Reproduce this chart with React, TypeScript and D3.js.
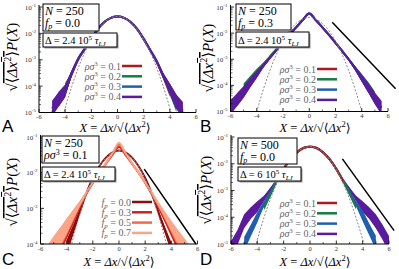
import React from "react";
import * as d3 from "d3";

const _ = null;

// shared x grid (X = dx / sqrt(<dx^2>))
const xGrid = [-6, -5.5, -5, -4.5, -4, -3.5, -3, -2.5, -2, -1.5, -1, -0.5, 0, 0.5, 1, 1.5, 2, 2.5, 3, 3.5, 4, 4.5, 5, 5.5, 6];
const xTicks = [-6, -4, -2, 0, 2, 4, 6];

const rhoLabels = ["0.1", "0.2", "0.3", "0.4"];
const fpLabels = ["0.0", "0.3", "0.5", "0.7"];
const rhoColors = ["#b0181f", "#1a7a44", "#1f5fae", "#5a1c9c"];
const fpColors = ["#8e0b0b", "#d0201c", "#f46a48", "#fca487"];

// values are log10 of sqrt(<dx^2>) P(X)
// panel A : N=250, fp=0.0
const gaussA = [_, _, _, -5.76, -4.83, -4.02, -3.31, -2.72, -2.23, -1.85, -1.58, -1.41, -1.36, -1.41, -1.58, -1.85, -2.23, -2.72, -3.31, -4.02, -4.83, -5.76, _, _, _];
const aRho1 = [_, _, _, _, -4.1, -3.55, -3.0, -2.6, -2.22, -1.84, -1.57, -1.41, -1.36, -1.41, -1.57, -1.84, -2.22, -2.65, -3.1, -3.65, -4.2, _, _, _, _];
const aRho2 = [_, _, _, -4.5, -4.15, -3.52, -2.98, -2.59, -2.22, -1.84, -1.57, -1.41, -1.36, -1.41, -1.57, -1.84, -2.22, -2.64, -3.08, -3.62, -4.15, -4.7, _, _, _];
const aRho3 = [_, _, _, -4.5, -4.2, -3.5, -2.96, -2.58, -2.21, -1.84, -1.57, -1.41, -1.36, -1.41, -1.57, -1.84, -2.21, -2.63, -3.06, -3.6, -4.1, -4.6, _, _, _];
const aRho4 = [_, _, -4.85, -4.5, -4.2, -3.5, -2.95, -2.58, -2.2, -1.83, -1.57, -1.41, -1.36, -1.41, -1.57, -1.83, -2.2, -2.62, -3.05, -3.6, -4.1, -4.6, -4.9, _, _];
const spreadA = [0, 0, 0.3, 0.28, 0.22, 0.1, 0.03, 0, 0, 0, 0, 0, 0, 0, 0, 0, 0, 0, 0.03, 0.1, 0.2, 0.28, 0.3, 0, 0];

// panel B : N=250, fp=0.3
const gaussB = [_, _, _, -5.96, -5.0, -4.16, -3.43, -2.81, -2.3, -1.91, -1.63, -1.46, -1.4, -1.46, -1.63, -1.91, -2.3, -2.81, -3.43, -4.16, -5.0, -5.96, _, _, _];
const bRho1 = [_, _, _, -3.88, -3.56, -3.23, -2.93, -2.63, -2.34, -2.05, -1.78, -1.5, -1.25, -1.5, -1.78, -2.07, -2.37, -2.68, -3.0, -3.35, -3.72, -4.1, _, _, _];
const bRho2 = [_, _, -4.15, -3.82, -3.5, -3.2, -2.9, -2.6, -2.32, -2.04, -1.78, -1.5, -1.25, -1.5, -1.78, -2.07, -2.37, -2.68, -3.0, -3.35, -3.7, -4.05, -4.45, _, _];
const bRho3 = [_, -4.55, -4.25, -3.9, -3.58, -3.25, -2.95, -2.65, -2.35, -2.05, -1.78, -1.5, -1.25, -1.5, -1.78, -2.07, -2.37, -2.68, -3.0, -3.35, -3.72, -4.1, -4.5, -4.85, _];
const bRho4 = [-4.85, -4.55, -4.25, -3.9, -3.58, -3.25, -2.95, -2.65, -2.35, -2.05, -1.78, -1.5, -1.25, -1.5, -1.78, -2.07, -2.37, -2.68, -3.0, -3.35, -3.72, -4.1, -4.5, -4.85, _];
const spreadB = [0.28, 0.25, 0.22, 0.18, 0.14, 0.08, 0.04, 0.02, 0, 0, 0, 0, 0, 0, 0, 0, 0, 0.02, 0.04, 0.08, 0.14, 0.18, 0.22, 0.25, 0.28];
const slopeB = [[1.75, -1.58], [6.58, -4.13]];

// panel C : N=250, rho sigma^3 = 0.1
const gaussC = [_, _, _, _, -4.58, -3.83, -3.18, -2.63, -2.18, -1.83, -1.58, -1.43, -1.38, -1.43, -1.58, -1.83, -2.18, -2.63, -3.18, -3.83, -4.58, _, _, _, _];
const cFp0 = [_, _, _, _, -4.1, -3.6, -3.1, -2.58, -2.15, -1.82, -1.58, -1.43, -1.38, -1.43, -1.58, -1.82, -2.15, -2.58, -3.1, -3.6, -4.1, _, _, _, _];
const cFp3 = [_, _, _, -4.0, -3.65, -3.3, -2.95, -2.6, -2.28, -2.0, -1.75, -1.5, -1.28, -1.5, -1.75, -2.0, -2.28, -2.6, -2.95, -3.3, -3.65, -4.0, _, _, _];
const cFp5 = [_, _, -4.2, -3.88, -3.55, -3.22, -2.9, -2.58, -2.28, -2.0, -1.74, -1.47, -1.22, -1.47, -1.74, -2.0, -2.28, -2.58, -2.9, -3.22, -3.55, -3.88, -4.2, _, _];
const cFp7 = [_, -4.35, -4.08, -3.8, -3.5, -3.18, -2.87, -2.56, -2.27, -2.0, -1.73, -1.45, -1.16, -1.45, -1.73, -2.0, -2.27, -2.56, -2.87, -3.18, -3.5, -3.8, -4.08, -4.35, _];
const spreadC = [0, 0.3, 0.3, 0.26, 0.22, 0.15, 0.08, 0.04, 0, 0, 0, 0, 0, 0, 0, 0, 0, 0.03, 0.06, 0.1, 0.15, 0.2, 0.24, 0.26, 0];
const slopeC = [[1.93, -1.9], [5.88, -4.0]];

// panel D : N=500, fp=0.0
const gaussD = [_, _, _, -5.76, -4.83, -4.02, -3.31, -2.72, -2.23, -1.85, -1.58, -1.41, -1.36, -1.41, -1.58, -1.85, -2.23, -2.72, -3.31, -4.02, -4.83, -5.76, _, _, _];
const dRho1 = [_, _, _, _, _, _, _, -2.62, -2.2, -1.84, -1.58, -1.41, -1.36, -1.41, -1.58, -1.84, -2.2, -2.65, _, _, _, _, _, _, _];
const dRho2 = [_, _, _, _, _, -3.65, -3.15, -2.62, -2.2, -1.84, -1.58, -1.41, -1.36, -1.41, -1.58, -1.84, -2.2, -2.64, -3.12, -3.62, _, _, _, _, _];
const dRho3 = [_, _, -5.0, -4.5, -4.0, -3.5, -3.05, -2.62, -2.2, -1.84, -1.58, -1.41, -1.36, -1.41, -1.58, -1.84, -2.2, -2.62, -3.05, -3.5, -3.95, -4.45, -4.95, _, _];
const dRho4 = [-5.2, -4.75, -4.15, -3.85, -3.6, -3.3, -2.95, -2.6, -2.2, -1.84, -1.58, -1.41, -1.36, -1.41, -1.58, -1.84, -2.2, -2.6, -2.95, -3.3, -3.6, -3.85, -4.15, -4.55, -5.0];
const spreadD = [0.3, 0.28, 0.26, 0.22, 0.2, 0.1, 0.05, 0.02, 0, 0, 0, 0, 0, 0, 0, 0, 0, 0.02, 0.05, 0.1, 0.2, 0.22, 0.26, 0.28, 0.3];
const slopeD = [[2.46, -1.82], [6.39, -4.5]];

const SERIF = "'Liberation Serif', 'DejaVu Serif', serif";
const SANS = "'Liberation Sans', Arial, sans-serif";

const panels = [
  {
    id: "A", x0: 39, x1: 196, y0: 7, y1: 112.5, yMin: -5,
    series: [aRho1, aRho2, aRho3, aRho4], colors: rhoColors, spread: spreadA, gauss: gaussA, slope: null,
    reverse: false, legend: rhoLabels, legendKind: "rho", legendX: 122, legendY: 66,
    N: "250", second: ["f", "0.0"], delta: "2.4", box1: [43, 4, 99, 31], box2: [43, 33, 117, 47],
    yTitle: [17, 57], xTitle: [115, 132], letter: [2, 132],
  },
  {
    id: "B", x0: 230.5, x1: 388, y0: 7, y1: 111.5, yMin: -5,
    series: [bRho1, bRho2, bRho3, bRho4], colors: rhoColors, spread: spreadB, gauss: gaussB, slope: slopeB,
    reverse: false, legend: rhoLabels, legendKind: "rho", legendX: 317, legendY: 69,
    N: "250", second: ["f", "0.3"], delta: "2.4", box1: [236, 4, 291, 30], box2: [236, 32, 309, 47],
    yTitle: [213, 58], xTitle: [315, 132], letter: [200, 132],
  },
  {
    id: "C", x0: 40.5, x1: 197.5, y0: 137, y1: 244, yMin: -4,
    series: [cFp0, cFp3, cFp5, cFp7], colors: fpColors, spread: spreadC, gauss: gaussC, slope: slopeC,
    reverse: false, legend: fpLabels, legendKind: "fp", legendX: 132, legendY: 202,
    N: "250", second: ["rho", "0.1"], delta: "2.4", box1: [42, 136, 99, 163], box2: [42, 167, 115, 181],
    yTitle: [17, 192], xTitle: [119, 266], letter: [2, 265],
  },
  {
    id: "D", x0: 231, x1: 389, y0: 137, y1: 244, yMin: -5,
    series: [dRho1, dRho2, dRho3, dRho4], colors: rhoColors, spread: spreadD, gauss: gaussD, slope: slopeD,
    reverse: true, legend: rhoLabels, legendKind: "rho", legendX: 317, legendY: 203,
    N: "500", second: ["f", "0.0"], delta: "6", box1: [238, 138, 297, 164], box2: [238, 167, 301, 181],
    yTitle: [211, 190], xTitle: [315, 266], letter: [200, 265],
  },
];

function Panel({ p }: { p: any }) {
  const x = d3.scaleLinear().domain([-6, 6]).range([p.x0, p.x1]);
  const y = d3.scaleLinear().domain([p.yMin, -1]).range([p.y1, p.y0]);
  const clipId = "clip" + p.id;

  const line = d3
    .line<any>()
    .defined((d) => d[1] != null)
    .x((d) => x(d[0]))
    .y((d) => y(d[1]))
    .curve(d3.curveMonotoneX);

  const band = d3
    .area<any>()
    .defined((d) => d[1] != null && d[2] > 0)
    .x((d) => x(d[0]))
    .y0((d) => y(d[1] - d[2]))
    .y1((d) => y(d[1] + d[2]));

  const order = p.reverse ? [3, 2, 1, 0] : [0, 1, 2, 3];
  const majors = d3.range(p.yMin, 0);
  const minors: number[] = [];
  for (let dec = p.yMin; dec < -1; dec++) for (let k = 2; k <= 9; k++) minors.push(dec + Math.log10(k));
  const xMinor = d3.range(-5, 6, 2);

  const gaussPts = xGrid.map((v, i) => [v, p.gauss[i]]);

  return (
    <g>
      <defs>
        <clipPath id={clipId}>
          <rect x={p.x0} y={p.y0 - 3} width={p.x1 - p.x0} height={p.y1 - p.y0 + 3} />
        </clipPath>
      </defs>

      <g clipPath={`url(#${clipId})`}>
        {order.map((si) => {
          const pts = xGrid.map((v, i) => [v, p.series[si][i], p.spread[i]]);
          return (
            <g key={si}>
              <path d={band(pts) || ""} fill={p.colors[si]} />
              <path d={line(pts) || ""} fill="none" stroke={p.colors[si]} strokeWidth={2} />
            </g>
          );
        })}
        <path d={line(gaussPts) || ""} fill="none" stroke="#8a8a8a" strokeWidth={1} strokeDasharray="2,1.6" />
      </g>

      {p.slope && (
        <line x1={x(p.slope[0][0])} y1={y(p.slope[0][1])} x2={x(p.slope[1][0])} y2={y(p.slope[1][1])} stroke="#000" strokeWidth={1.5} />
      )}

      {/* axes */}
      <line x1={p.x0} x2={p.x0} y1={p.y0 - 2} y2={p.y1} stroke="#000" strokeWidth={1} />
      <line x1={p.x0} x2={p.x1} y1={p.y1} y2={p.y1} stroke="#000" strokeWidth={1} />
      {majors.map((m: number) => (
        <g key={"m" + m}>
          <line x1={p.x0} x2={p.x0 + 3.5} y1={y(m)} y2={y(m)} stroke="#000" strokeWidth={0.8} />
          <text x={p.x0 - 3} y={y(m) + 2.5} textAnchor="end" fontFamily={SERIF} fontSize={7} fill="#333">
            10<tspan dy={-3} fontSize={5}>{m}</tspan>
          </text>
        </g>
      ))}
      {minors.map((m, i) => (
        <line key={"n" + i} x1={p.x0} x2={p.x0 + 2} y1={y(m)} y2={y(m)} stroke="#000" strokeWidth={0.6} />
      ))}
      {xTicks.map((t) => (
        <g key={"x" + t}>
          <line x1={x(t)} x2={x(t)} y1={p.y1} y2={p.y1 - 3.5} stroke="#000" strokeWidth={0.8} />
          <text x={x(t)} y={p.y1 + 6.5} textAnchor="middle" fontFamily={SERIF} fontSize={6.5} fill="#333">
            {t}
          </text>
        </g>
      ))}
      {xMinor.map((t) => (
        <line key={"xm" + t} x1={x(t)} x2={x(t)} y1={p.y1} y2={p.y1 - 2} stroke="#000" strokeWidth={0.6} />
      ))}

      {/* legend */}
      {p.legend.map((lab: string, i: number) => (
        <g key={"l" + i}>
          <text x={p.legendX - 1} y={p.legendY + i * 10.3 + 3.5} textAnchor="end" fontFamily={SERIF} fontSize={10} fill="#666">
            {p.legendKind === "rho" ? (
              <>
                <tspan fontStyle="italic">ρσ</tspan>
                <tspan dy={-4} fontSize={7}>3</tspan>
                <tspan dy={4}>{" = " + lab}</tspan>
              </>
            ) : (
              <>
                <tspan fontStyle="italic">f</tspan>
                <tspan dy={2} fontSize={7} fontStyle="italic">p</tspan>
                <tspan dy={-2}>{" = " + lab}</tspan>
              </>
            )}
          </text>
          <line x1={p.legendX} x2={p.legendX + 20} y1={p.legendY + i * 10.3} y2={p.legendY + i * 10.3} stroke={p.colors[i]} strokeWidth={2.5} />
        </g>
      ))}

      {/* info boxes */}
      <rect x={p.box1[0]} y={p.box1[1]} width={p.box1[2] - p.box1[0]} height={p.box1[3] - p.box1[1]} fill="#fff" stroke="#000" strokeWidth={1} />
      <text x={p.box1[0] + 2} y={p.box1[1] + 10.5} fontFamily={SERIF} fontSize={12}>
        <tspan fontStyle="italic">N</tspan> = {p.N}
      </text>
      <text x={p.box1[0] + 2} y={p.box1[1] + 23} fontFamily={SERIF} fontSize={12}>
        {p.second[0] === "f" ? (
          <>
            <tspan fontStyle="italic">f</tspan>
            <tspan dy={2} fontSize={8} fontStyle="italic">p</tspan>
            <tspan dy={-2}>{" = " + p.second[1]}</tspan>
          </>
        ) : (
          <>
            <tspan fontStyle="italic">ρσ</tspan>
            <tspan dy={-4} fontSize={8}>3</tspan>
            <tspan dy={4}>{" = " + p.second[1]}</tspan>
          </>
        )}
      </text>
      <rect x={p.box2[0] + 1.5} y={p.box2[1] + 1.5} width={p.box2[2] - p.box2[0]} height={p.box2[3] - p.box2[1]} fill="#999" />
      <rect x={p.box2[0]} y={p.box2[1]} width={p.box2[2] - p.box2[0]} height={p.box2[3] - p.box2[1]} fill="#fff" stroke="#000" strokeWidth={1} />
      <text x={p.box2[0] + 2} y={p.box2[3] - 3.5} fontFamily={SERIF} fontSize={10.5}>
        Δ = {p.delta} 10<tspan dy={-4} fontSize={7}>5</tspan>
        <tspan dy={4} fontStyle="italic"> τ</tspan>
        <tspan dy={2} fontSize={7} fontStyle="italic">LJ</tspan>
      </text>

      {/* titles */}
      <text transform={`translate(${p.yTitle[0]},${p.yTitle[1]}) rotate(-90)`} textAnchor="middle" fontFamily={SERIF} fontSize={15}>
        √<tspan textDecoration="overline">⟨<tspan fontStyle="italic">Δx</tspan><tspan dy={-6} fontSize={10}>2</tspan><tspan dy={6}>⟩</tspan></tspan>
        <tspan fontStyle="italic">P</tspan>(<tspan fontStyle="italic">X</tspan>)
      </text>
      <text x={p.xTitle[0]} y={p.xTitle[1]} textAnchor="middle" fontFamily={SERIF} fontSize={12.5}>
        <tspan fontStyle="italic">X</tspan> = <tspan fontStyle="italic">Δx</tspan>/√⟨<tspan fontStyle="italic">Δx</tspan>
        <tspan dy={-5} fontSize={8.5}>2</tspan>
        <tspan dy={5}>⟩</tspan>
      </text>
      <text x={p.letter[0]} y={p.letter[1]} fontFamily={SANS} fontSize={17}>
        {p.id}
      </text>
    </g>
  );
}

export default function App() {
  return (
    <svg width={399} height={269} style={{ position: "absolute", left: 0, top: 0, background: "#fff" }}>
      <rect width={399} height={269} fill="#fff" />
      {panels.map((p) => (
        <Panel key={p.id} p={p} />
      ))}
    </svg>
  );
}
